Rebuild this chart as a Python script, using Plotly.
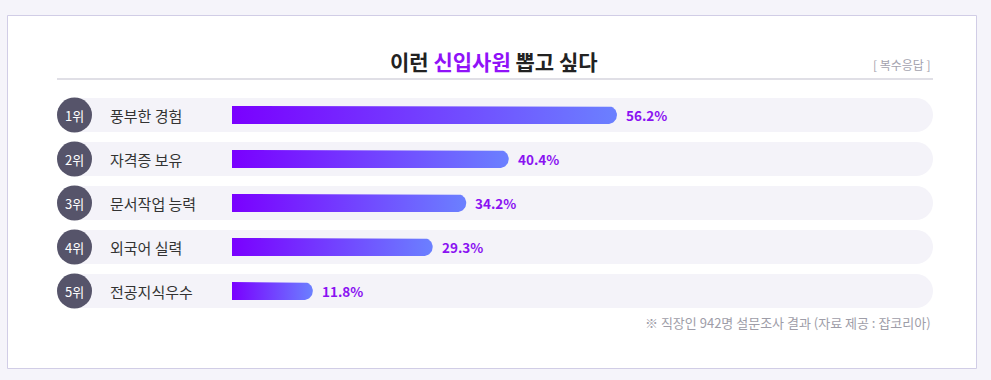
import numpy as np
import plotly.graph_objects as go

# ---- data ----
ranks = ["1위", "2위", "3위", "4위", "5위"]
categories = ["풍부한 경험", "자격증 보유", "문서작업 능력", "외국어 실력", "전공지식우수"]
values = [56.2, 40.4, 34.2, 29.3, 11.8]
title_parts = ["이런 ", "신입사원", " 뽑고 싶다"]
note_multi = "[ 복수응답 ]"
footnote = "※ 직장인 942명 설문조사 결과 (자료 제공 : 잡코리아)"

W, H = 991, 380
FONT = "Noto Sans CJK KR"
PURPLE = "#8A12F2"

# layout geometry (pixels)
bar_x0_px = 232
px_per_pct = 6.85
track_left_px, track_right_px = 57, 933
row0_px, row_step_px = 115, 44
bar_h_px = 18
track_h_px = 34

x_dom = [bar_x0_px / W, track_right_px / W]
x_range = [0, (track_right_px - bar_x0_px) / px_per_pct]
n = len(values)
y_top_px = row0_px - row_step_px / 2
y_bot_px = row0_px + row_step_px * (n - 0.5)
y_dom = [1 - y_bot_px / H, 1 - y_top_px / H]

fig = go.Figure()

# gradient bars with rounded right end
hy = (bar_h_px / 2) / row_step_px          # half height in y units
rx = (bar_h_px / 2) / px_per_pct           # radius in x units
for i, v in enumerate(values):
    ang = np.linspace(-np.pi / 2, np.pi / 2, 25)
    cx = v - rx
    xs = [0, cx] + list(cx + rx * np.cos(ang)) + [cx, 0, 0]
    ys = [i - hy, i - hy] + list(i + hy * np.sin(ang)) + [i + hy, i + hy, i - hy]
    fig.add_trace(go.Scatter(
        x=xs, y=ys, mode="lines", fill="toself",
        line=dict(width=0, color="rgba(0,0,0,0)"),
        fillgradient=dict(type="horizontal",
                          colorscale=[[0, "#7A00FF"], [1, "#6B80FF"]]),
        hoverinfo="skip", showlegend=False))

shapes = []
# outer card
shapes.append(dict(type="rect", xref="paper", yref="paper",
                   x0=7.5 / W, x1=976.5 / W, y0=1 - 368.5 / H, y1=1 - 15.5 / H,
                   fillcolor="white", line=dict(color="#D1CDE6", width=1), layer="below"))
# title underline
shapes.append(dict(type="line", xref="paper", yref="paper",
                   x0=track_left_px / W, x1=track_right_px / W,
                   y0=1 - 79 / H, y1=1 - 79 / H,
                   line=dict(color="#D6D5DE", width=1.5), layer="below"))

th = (track_h_px / 2) / row_step_px
r_px = track_h_px / 2
annotations = []
for i, (rk, cat, v) in enumerate(zip(ranks, categories, values)):
    # track pill
    shapes.append(dict(type="rect", xref="paper", yref="y",
                       x0=(track_left_px + r_px) / W, x1=(track_right_px - r_px) / W,
                       y0=i - th, y1=i + th, fillcolor="#F4F3F9",
                       line=dict(width=0), layer="below"))
    for cxp in (track_left_px, track_right_px - 2 * r_px):
        shapes.append(dict(type="circle", xref="paper", yref="y",
                           x0=cxp / W, x1=(cxp + 2 * r_px) / W,
                           y0=i - th, y1=i + th, fillcolor="#F4F3F9",
                           line=dict(width=0), layer="below"))
    # rank badge
    shapes.append(dict(type="circle", xref="paper", yref="y",
                       x0=57 / W, x1=92 / W, y0=i - 17.5 / row_step_px, y1=i + 17.5 / row_step_px,
                       fillcolor="#56546A", line=dict(width=0), layer="above"))
    annotations.append(dict(xref="paper", yref="y", x=74.5 / W, y=i, text=rk,
                            showarrow=False, xanchor="center", yanchor="middle",
                            font=dict(family=FONT, size=13, color="white")))
    annotations.append(dict(xref="paper", yref="y", x=108 / W, y=i, text=cat,
                            showarrow=False, xanchor="left", yanchor="middle",
                            font=dict(family=FONT, size=15, color="#333333")))
    annotations.append(dict(xref="x", yref="y", x=v, y=i, text=f"<b>{v:.1f}%</b>",
                            showarrow=False, xanchor="left", yanchor="middle", xshift=7,
                            font=dict(family=FONT, size=13.5, color=PURPLE)))

# title
annotations.append(dict(xref="paper", yref="paper", x=494 / W, y=1 - 61 / H,
                        text=f"<b>{title_parts[0]}<span style='color:#9012F8'>{title_parts[1]}</span>{title_parts[2]}</b>",
                        showarrow=False, xanchor="center", yanchor="middle",
                        font=dict(family=FONT, size=21, color="#222222")))
annotations.append(dict(xref="paper", yref="paper", x=933 / W, y=1 - 65 / H,
                        text=note_multi, showarrow=False, xanchor="right", yanchor="middle",
                        font=dict(family=FONT, size=12, color="#A3A2AE")))
annotations.append(dict(xref="paper", yref="paper", x=933 / W, y=1 - 322 / H,
                        text=footnote, showarrow=False, xanchor="right", yanchor="middle",
                        font=dict(family=FONT, size=13, color="#9E9DA8")))

fig.update_layout(
    width=W, height=H, margin=dict(l=0, r=0, t=0, b=0),
    paper_bgcolor="#F5F4FA", plot_bgcolor="rgba(0,0,0,0)",
    xaxis=dict(domain=x_dom, range=x_range, visible=False, fixedrange=True),
    yaxis=dict(domain=y_dom, range=[n - 0.5, -0.5], visible=False, fixedrange=True),
    shapes=shapes, annotations=annotations, showlegend=False,
)

fig.write_html("out.html", config={"displayModeBar": False})
